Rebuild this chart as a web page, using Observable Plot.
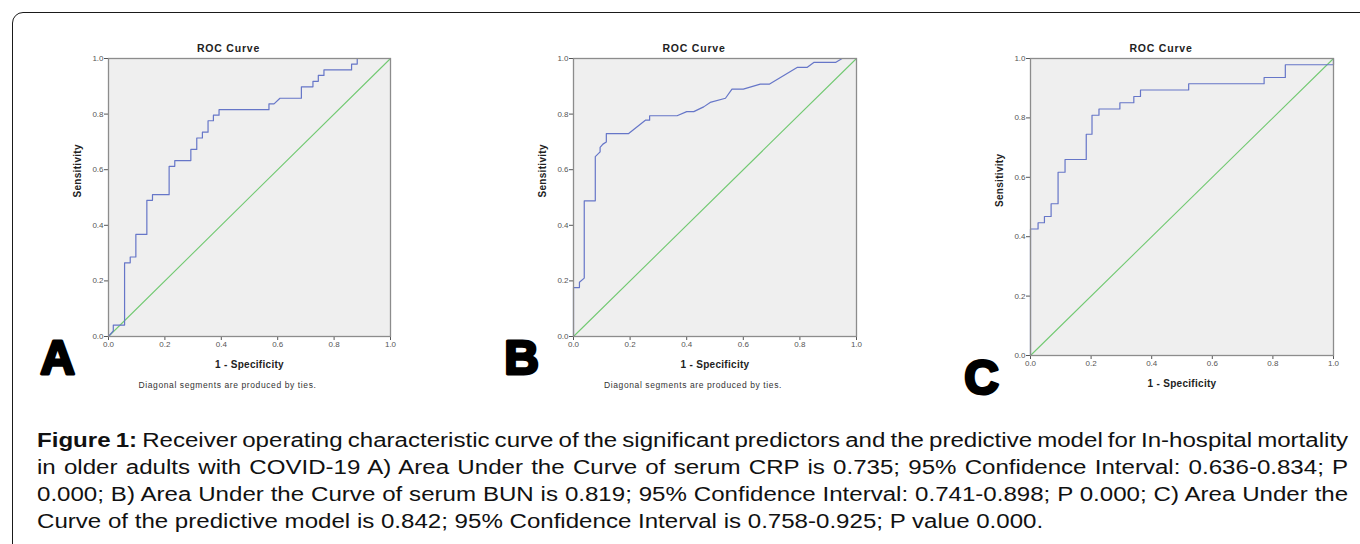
<!DOCTYPE html>
<html><head><meta charset="utf-8">
<script src="https://cdn.jsdelivr.net/npm/d3@7"></script>
<script src="https://cdn.jsdelivr.net/npm/@observablehq/plot@0.6"></script>
<style>
html,body{margin:0;padding:0;}
body{width:1360px;height:544px;overflow:hidden;background:#fff;font-family:"Liberation Sans",Arial,sans-serif;position:relative;}
#border{position:absolute;left:12px;top:12px;width:1420px;height:620px;border:1.5px solid #1a1a1a;border-radius:11px;}
.panel{position:absolute;}
#caption{position:absolute;left:37px;top:427px;width:1089px;font-size:20px;line-height:27px;color:#111;transform:scale(1.204,1);transform-origin:0 0;}
#caption div{text-align:justify;text-align-last:justify;white-space:nowrap;}
#caption div.first{word-spacing:-2.2px;}
#caption div.last{text-align-last:left;}
</style></head>
<body>
<div id="border"></div>
<div id="pA" class="panel"></div>
<div id="pB" class="panel"></div>
<div id="pC" class="panel"></div>
<div id="caption"></div>
<script>
// ---- data ----
const tickValues = [0, 0.2, 0.4, 0.6, 0.8, 1.0];
const diagX = [0, 1];
const diagY = [0, 1];

// Panel A: serum CRP
const fprA = [0,0.017,0.017,0.057,0.057,0.077,0.077,0.097,0.097,0.136,0.136,0.156,0.156,0.215,0.215,0.235,0.235,0.292,0.292,0.313,0.313,0.333,0.333,0.353,0.353,0.372,0.372,0.392,0.392,0.569,0.569,0.587,0.608,0.684,0.684,0.725,0.725,0.744,0.744,0.764,0.764,0.862,0.862,0.882,0.882,1];
const tprA = [0,0.02,0.041,0.041,0.265,0.265,0.286,0.286,0.367,0.367,0.49,0.49,0.51,0.51,0.612,0.612,0.633,0.633,0.673,0.673,0.714,0.714,0.735,0.735,0.776,0.776,0.796,0.796,0.816,0.816,0.837,0.837,0.857,0.857,0.898,0.898,0.918,0.918,0.939,0.939,0.959,0.959,0.98,0.98,1,1];

// Panel B: serum BUN
const fprB = [0,0,0.021,0.021,0.038,0.038,0.077,0.077,0.094,0.094,0.104,0.116,0.116,0.195,0.254,0.269,0.269,0.366,0.40,0.425,0.46,0.483,0.537,0.56,0.60,0.66,0.693,0.79,0.825,0.849,0.926,0.949,1];
const tprB = [0,0.176,0.176,0.195,0.21,0.488,0.488,0.647,0.664,0.68,0.692,0.70,0.73,0.73,0.778,0.778,0.794,0.794,0.809,0.809,0.826,0.842,0.857,0.89,0.89,0.908,0.908,0.968,0.968,0.986,0.986,1,1];

// Panel C: predictive model
const fprC = [0,0,0.025,0.025,0.046,0.046,0.068,0.068,0.091,0.091,0.114,0.114,0.184,0.184,0.203,0.203,0.226,0.226,0.295,0.295,0.341,0.341,0.363,0.363,0.522,0.522,0.771,0.771,0.841,0.841,1,1];
const tprC = [0,0.426,0.426,0.447,0.447,0.468,0.468,0.511,0.511,0.617,0.617,0.66,0.66,0.745,0.745,0.809,0.809,0.83,0.83,0.851,0.851,0.872,0.872,0.894,0.894,0.915,0.915,0.936,0.936,0.979,0.979,1];

const titleText = "ROC Curve";
const xLabel = "1 - Specificity";
const yLabel = "Sensitivity";
const footText = "Diagonal segments are produced by ties.";

const captionLines = [
  ["Figure 1:", " Receiver operating characteristic curve of the significant predictors and the predictive model for In-hospital mortality"],
  ["", "in older adults with COVID-19 A) Area Under the Curve of serum CRP is 0.735; 95% Confidence Interval: 0.636-0.834; P"],
  ["", "0.000; B) Area Under the Curve of serum BUN is 0.819; 95% Confidence Interval: 0.741-0.898; P 0.000; C) Area Under the"],
  ["", "Curve of the predictive model is 0.842; 95% Confidence Interval is 0.758-0.925; P value 0.000."]
];

// ---- drawing ----
const BLUE = "#6676c8", GREEN = "#72c972", BG = "#efefef";

function panel(el, fpr, tpr, letter, showFoot, box, frame) {
  const curve = fpr.map((x, i) => ({x, y: tpr[i]}));
  const diag = diagX.map((x, i) => ({x, y: diagY[i]}));
  const marks = [
    Plot.frame({fill: BG, stroke: "none"}),
    Plot.axisX({ticks: tickValues, tickFormat: d3.format(".1f"), tickSize: 4, tickPadding: 1, fontSize: 8, color: "#555", label: null}),
    Plot.axisY({ticks: tickValues, tickFormat: d3.format(".1f"), tickSize: 4, tickPadding: 1, fontSize: 8, color: "#555", label: null}),
    Plot.line(diag, {x: "x", y: "y", stroke: GREEN, strokeWidth: 1.1}),
    Plot.line(curve, {x: "x", y: "y", stroke: BLUE, strokeWidth: 1.2}),
    Plot.frame({stroke: "#8c8c8c", strokeWidth: 1.3}),
    Plot.text([titleText], {frameAnchor: "top", dx: -21, dy: -14, fontWeight: "bold", fontSize: 10.5, fill: "#222", className: "ttl"}),
    Plot.text([xLabel], {frameAnchor: "bottom", dy: 31, fontWeight: "bold", fontSize: 10, fill: "#222", className: "xl"}),
    Plot.text([yLabel], {frameAnchor: "left", dx: -31, rotate: -90, fontWeight: "bold", fontSize: 10, fill: "#222", className: "yl"}),
    Plot.text([letter], {frameAnchor: "bottom-left", dx: frame.letterDx, dy: frame.letterDy, textAnchor: "middle", lineAnchor: "middle", fontWeight: "bold", fontSize: 48, fill: "#000", stroke: "#000", strokeWidth: 3})
  ];
  if (showFoot) marks.push(Plot.text([footText], {frameAnchor: "bottom", dx: -22, dy: 51, fontSize: 8.5, fill: "#333", className: "ft"}));
  const chart = Plot.plot({
    width: box.w, height: box.h,
    marginLeft: frame.l - box.l, marginRight: box.l + box.w - frame.r,
    marginTop: frame.t - box.t, marginBottom: box.t + box.h - frame.b,
    x: {domain: [0, 1]}, y: {domain: [0, 1]},
    style: {fontFamily: "'Liberation Sans', Arial, sans-serif", background: "transparent", overflow: "visible"},
    marks
  });
  const svg = d3.select(chart);
  svg.selectAll(".ttl text").attr("letter-spacing", "0.8px");
  svg.selectAll(".xl text").attr("letter-spacing", "0.3px");
  svg.selectAll(".yl text").attr("letter-spacing", "0.3px");
  svg.selectAll(".ft text").attr("letter-spacing", "0.6px");
  el.style.left = box.l + "px";
  el.style.top = box.t + "px";
  el.appendChild(chart);
}

panel(document.getElementById("pA"), fprA, tprA, "A", true,
  {l: 20, t: 30, w: 390, h: 370}, {l: 108, r: 390, t: 58, b: 336, letterDx: -51, letterDy: 22});
panel(document.getElementById("pB"), fprB, tprB, "B", true,
  {l: 490, t: 30, w: 386, h: 370}, {l: 573, r: 856, t: 58, b: 336, letterDx: -52, letterDy: 22});
panel(document.getElementById("pC"), fprC, tprC, "C", false,
  {l: 950, t: 30, w: 400, h: 380}, {l: 1030, r: 1333, t: 58, b: 355, letterDx: -49, letterDy: 23});

const cap = document.getElementById("caption");
captionLines.forEach((ln, i) => {
  const d = document.createElement("div");
  if (i === 0) d.className = "first";
  if (i === captionLines.length - 1) d.className = "last";
  if (ln[0]) { const b = document.createElement("b"); b.textContent = ln[0]; d.appendChild(b); }
  d.appendChild(document.createTextNode(ln[1]));
  cap.appendChild(d);
});
</script>
</body></html>
